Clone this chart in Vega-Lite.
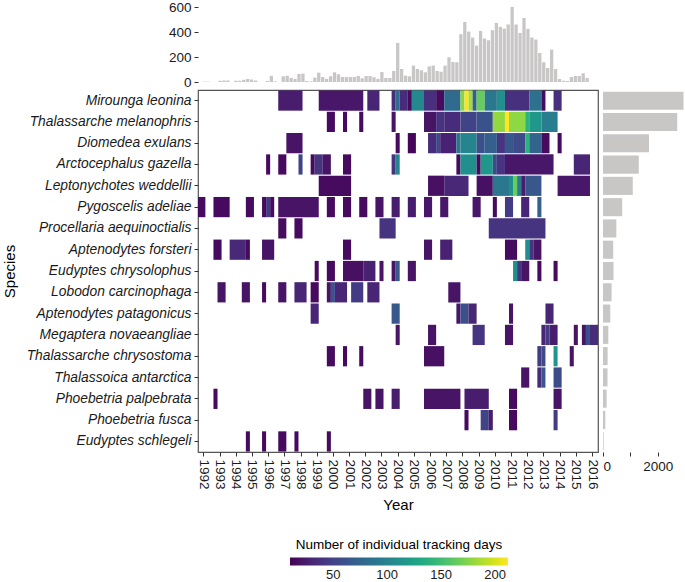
{
"$schema":"https://vega.github.io/schema/vega-lite/v6.json",
"padding":{"left":1,"top":0,"right":0,"bottom":0},
"config":{"font":"Liberation Sans","view":{"stroke":null},
"axis":{"labelFont":"Liberation Sans","labelFontSize":13.5,"labelColor":"#1a1a1a","tickColor":"#333333","tickSize":4,"titleFont":"Liberation Sans","titleFontSize":15,"titleFontWeight":"normal","titleColor":"#000000","grid":false,"domain":false}},
"datasets":{
"quarters":[{"q":1991.75,"d":3},{"q":1992.0,"d":3},{"q":1992.75,"d":10},{"q":1993.0,"d":12},{"q":1993.25,"d":12},{"q":1993.75,"d":10},{"q":1994.0,"d":10},{"q":1994.25,"d":18},{"q":1994.5,"d":24},{"q":1994.75,"d":20},{"q":1995.0,"d":12},{"q":1995.75,"d":8},{"q":1996.0,"d":50},{"q":1996.25,"d":5},{"q":1996.75,"d":46},{"q":1997.0,"d":50},{"q":1997.25,"d":33},{"q":1997.5,"d":25},{"q":1997.75,"d":65},{"q":1998.0,"d":67},{"q":1998.25,"d":8},{"q":1998.5,"d":5},{"q":1998.75,"d":35},{"q":1999.0,"d":75},{"q":1999.25,"d":40},{"q":1999.5,"d":25},{"q":1999.75,"d":46},{"q":2000.0,"d":78},{"q":2000.25,"d":62},{"q":2000.5,"d":40},{"q":2000.75,"d":40},{"q":2001.0,"d":40},{"q":2001.25,"d":40},{"q":2001.5,"d":48},{"q":2001.75,"d":30},{"q":2002.0,"d":48},{"q":2002.25,"d":48},{"q":2002.5,"d":38},{"q":2002.75,"d":25},{"q":2003.0,"d":80},{"q":2003.25,"d":32},{"q":2003.5,"d":32},{"q":2003.75,"d":89},{"q":2004.0,"d":315},{"q":2004.25,"d":105},{"q":2004.5,"d":51},{"q":2004.75,"d":46},{"q":2005.0,"d":132},{"q":2005.25,"d":105},{"q":2005.5,"d":94},{"q":2005.75,"d":78},{"q":2006.0,"d":126},{"q":2006.25,"d":132},{"q":2006.5,"d":89},{"q":2006.75,"d":83},{"q":2007.0,"d":132},{"q":2007.25,"d":199},{"q":2007.5,"d":161},{"q":2007.75,"d":159},{"q":2008.0,"d":385},{"q":2008.25,"d":484},{"q":2008.5,"d":406},{"q":2008.75,"d":358},{"q":2009.0,"d":293},{"q":2009.25,"d":411},{"q":2009.5,"d":350},{"q":2009.75,"d":336},{"q":2010.0,"d":417},{"q":2010.25,"d":476},{"q":2010.5,"d":444},{"q":2010.75,"d":430},{"q":2011.0,"d":463},{"q":2011.25,"d":605},{"q":2011.5,"d":463},{"q":2011.75,"d":395},{"q":2012.0,"d":516},{"q":2012.25,"d":428},{"q":2012.5,"d":358},{"q":2012.75,"d":342},{"q":2013.0,"d":234},{"q":2013.25,"d":159},{"q":2013.5,"d":113},{"q":2013.75,"d":261},{"q":2014.0,"d":105},{"q":2014.25,"d":24},{"q":2014.5,"d":10},{"q":2014.75,"d":8},{"q":2015.0,"d":40},{"q":2015.25,"d":48},{"q":2015.5,"d":48},{"q":2015.75,"d":70},{"q":2016.0,"d":32}],
"totals":[{"species":"Mirounga leonina","total":2945},{"species":"Thalassarche melanophris","total":2715},{"species":"Diomedea exulans","total":1684},{"species":"Arctocephalus gazella","total":1309},{"species":"Leptonychotes weddellii","total":1090},{"species":"Pygoscelis adeliae","total":702},{"species":"Procellaria aequinoctialis","total":487},{"species":"Aptenodytes forsteri","total":374},{"species":"Eudyptes chrysolophus","total":385},{"species":"Lobodon carcinophaga","total":315},{"species":"Aptenodytes patagonicus","total":267},{"species":"Megaptera novaeangliae","total":194},{"species":"Thalassarche chrysostoma","total":170},{"species":"Thalassoica antarctica","total":165},{"species":"Phoebetria palpebrata","total":133},{"species":"Phoebetria fusca","total":85},{"species":"Eudyptes schlegeli","total":25}],
"cells":[
{"species":"Mirounga leonina","start":1996.625,"end":1998.125,"days":25},
{"species":"Mirounga leonina","start":1999.125,"end":2001.875,"days":22},
{"species":"Mirounga leonina","start":2002.125,"end":2002.875,"days":30},
{"species":"Mirounga leonina","start":2003.625,"end":2003.875,"days":35},
{"species":"Mirounga leonina","start":2003.875,"end":2004.125,"days":80},
{"species":"Mirounga leonina","start":2004.125,"end":2004.625,"days":35},
{"species":"Mirounga leonina","start":2004.625,"end":2004.875,"days":15},
{"species":"Mirounga leonina","start":2004.875,"end":2005.625,"days":105},
{"species":"Mirounga leonina","start":2005.625,"end":2006.375,"days":38},
{"species":"Mirounga leonina","start":2006.375,"end":2006.875,"days":15},
{"species":"Mirounga leonina","start":2006.875,"end":2007.875,"days":80},
{"species":"Mirounga leonina","start":2007.875,"end":2008.125,"days":175},
{"species":"Mirounga leonina","start":2008.125,"end":2008.375,"days":210},
{"species":"Mirounga leonina","start":2008.375,"end":2008.625,"days":185},
{"species":"Mirounga leonina","start":2008.625,"end":2008.875,"days":70},
{"species":"Mirounga leonina","start":2008.875,"end":2009.375,"days":165},
{"species":"Mirounga leonina","start":2009.375,"end":2010.125,"days":90},
{"species":"Mirounga leonina","start":2010.125,"end":2010.625,"days":110},
{"species":"Mirounga leonina","start":2010.625,"end":2012.125,"days":38},
{"species":"Mirounga leonina","start":2012.125,"end":2012.875,"days":85},
{"species":"Mirounga leonina","start":2012.875,"end":2013.125,"days":15},
{"species":"Mirounga leonina","start":2013.625,"end":2014.125,"days":38},
{"species":"Thalassarche melanophris","start":1999.625,"end":2000.125,"days":15},
{"species":"Thalassarche melanophris","start":2000.625,"end":2000.875,"days":15},
{"species":"Thalassarche melanophris","start":2001.625,"end":2001.875,"days":15},
{"species":"Thalassarche melanophris","start":2003.625,"end":2003.875,"days":20},
{"species":"Thalassarche melanophris","start":2005.625,"end":2006.375,"days":20},
{"species":"Thalassarche melanophris","start":2006.375,"end":2006.875,"days":40},
{"species":"Thalassarche melanophris","start":2006.875,"end":2007.875,"days":35},
{"species":"Thalassarche melanophris","start":2007.875,"end":2008.875,"days":50},
{"species":"Thalassarche melanophris","start":2008.875,"end":2009.875,"days":60},
{"species":"Thalassarche melanophris","start":2009.875,"end":2010.625,"days":180},
{"species":"Thalassarche melanophris","start":2010.625,"end":2010.875,"days":212},
{"species":"Thalassarche melanophris","start":2010.875,"end":2011.875,"days":178},
{"species":"Thalassarche melanophris","start":2011.875,"end":2012.125,"days":140},
{"species":"Thalassarche melanophris","start":2012.125,"end":2012.875,"days":118},
{"species":"Thalassarche melanophris","start":2012.875,"end":2013.875,"days":95},
{"species":"Diomedea exulans","start":1997.125,"end":1998.125,"days":20},
{"species":"Diomedea exulans","start":2003.875,"end":2004.125,"days":15},
{"species":"Diomedea exulans","start":2004.625,"end":2005.125,"days":12},
{"species":"Diomedea exulans","start":2005.875,"end":2006.375,"days":35},
{"species":"Diomedea exulans","start":2006.375,"end":2006.625,"days":55},
{"species":"Diomedea exulans","start":2006.625,"end":2007.625,"days":28},
{"species":"Diomedea exulans","start":2007.625,"end":2007.875,"days":90},
{"species":"Diomedea exulans","start":2007.875,"end":2008.875,"days":100},
{"species":"Diomedea exulans","start":2008.875,"end":2009.375,"days":60},
{"species":"Diomedea exulans","start":2009.375,"end":2010.125,"days":70},
{"species":"Diomedea exulans","start":2010.125,"end":2010.625,"days":40},
{"species":"Diomedea exulans","start":2010.625,"end":2011.125,"days":65},
{"species":"Diomedea exulans","start":2011.125,"end":2011.875,"days":55},
{"species":"Diomedea exulans","start":2011.875,"end":2012.125,"days":140},
{"species":"Diomedea exulans","start":2012.125,"end":2012.875,"days":75},
{"species":"Diomedea exulans","start":2012.875,"end":2013.375,"days":15},
{"species":"Diomedea exulans","start":2013.875,"end":2014.125,"days":15},
{"species":"Arctocephalus gazella","start":1995.875,"end":1996.125,"days":15},
{"species":"Arctocephalus gazella","start":1996.625,"end":1997.125,"days":15},
{"species":"Arctocephalus gazella","start":1997.875,"end":1998.125,"days":50},
{"species":"Arctocephalus gazella","start":1998.625,"end":1998.875,"days":15},
{"species":"Arctocephalus gazella","start":1998.875,"end":1999.375,"days":40},
{"species":"Arctocephalus gazella","start":1999.375,"end":1999.875,"days":20},
{"species":"Arctocephalus gazella","start":2000.625,"end":2001.125,"days":15},
{"species":"Arctocephalus gazella","start":2003.625,"end":2003.875,"days":40},
{"species":"Arctocephalus gazella","start":2003.875,"end":2004.125,"days":100},
{"species":"Arctocephalus gazella","start":2007.625,"end":2007.875,"days":15},
{"species":"Arctocephalus gazella","start":2007.875,"end":2008.875,"days":110},
{"species":"Arctocephalus gazella","start":2008.875,"end":2009.125,"days":15},
{"species":"Arctocephalus gazella","start":2009.125,"end":2009.875,"days":118},
{"species":"Arctocephalus gazella","start":2009.875,"end":2010.125,"days":55},
{"species":"Arctocephalus gazella","start":2010.125,"end":2010.625,"days":40},
{"species":"Arctocephalus gazella","start":2010.625,"end":2013.625,"days":22},
{"species":"Arctocephalus gazella","start":2014.875,"end":2015.875,"days":30},
{"species":"Leptonychotes weddellii","start":1999.125,"end":2001.125,"days":15},
{"species":"Leptonychotes weddellii","start":2005.875,"end":2006.875,"days":18},
{"species":"Leptonychotes weddellii","start":2006.875,"end":2008.375,"days":32},
{"species":"Leptonychotes weddellii","start":2008.875,"end":2009.875,"days":18},
{"species":"Leptonychotes weddellii","start":2009.875,"end":2010.875,"days":90},
{"species":"Leptonychotes weddellii","start":2010.875,"end":2011.125,"days":110},
{"species":"Leptonychotes weddellii","start":2011.125,"end":2011.375,"days":165},
{"species":"Leptonychotes weddellii","start":2011.375,"end":2011.625,"days":90},
{"species":"Leptonychotes weddellii","start":2011.625,"end":2011.875,"days":25},
{"species":"Leptonychotes weddellii","start":2011.875,"end":2012.875,"days":65},
{"species":"Leptonychotes weddellii","start":2013.875,"end":2015.875,"days":22},
{"species":"Pygoscelis adeliae","start":1991.625,"end":1992.125,"days":15},
{"species":"Pygoscelis adeliae","start":1992.625,"end":1993.625,"days":15},
{"species":"Pygoscelis adeliae","start":1994.625,"end":1995.125,"days":15},
{"species":"Pygoscelis adeliae","start":1995.625,"end":1995.875,"days":15},
{"species":"Pygoscelis adeliae","start":1995.875,"end":1996.125,"days":45},
{"species":"Pygoscelis adeliae","start":1996.125,"end":1996.375,"days":15},
{"species":"Pygoscelis adeliae","start":1996.625,"end":1999.125,"days":20},
{"species":"Pygoscelis adeliae","start":1999.625,"end":2000.125,"days":15},
{"species":"Pygoscelis adeliae","start":2000.625,"end":2001.125,"days":15},
{"species":"Pygoscelis adeliae","start":2001.625,"end":2002.125,"days":15},
{"species":"Pygoscelis adeliae","start":2002.625,"end":2003.125,"days":20},
{"species":"Pygoscelis adeliae","start":2003.625,"end":2004.125,"days":25},
{"species":"Pygoscelis adeliae","start":2004.625,"end":2005.125,"days":25},
{"species":"Pygoscelis adeliae","start":2005.625,"end":2006.125,"days":22},
{"species":"Pygoscelis adeliae","start":2006.625,"end":2007.125,"days":22},
{"species":"Pygoscelis adeliae","start":2008.625,"end":2009.125,"days":22},
{"species":"Pygoscelis adeliae","start":2009.875,"end":2010.125,"days":15},
{"species":"Pygoscelis adeliae","start":2010.625,"end":2011.125,"days":45},
{"species":"Pygoscelis adeliae","start":2011.625,"end":2012.125,"days":30},
{"species":"Pygoscelis adeliae","start":2012.625,"end":2012.875,"days":70},
{"species":"Procellaria aequinoctialis","start":1996.625,"end":1997.125,"days":15},
{"species":"Procellaria aequinoctialis","start":1997.625,"end":1998.125,"days":15},
{"species":"Procellaria aequinoctialis","start":2002.875,"end":2003.875,"days":40},
{"species":"Procellaria aequinoctialis","start":2009.625,"end":2013.125,"days":40},
{"species":"Aptenodytes forsteri","start":1992.625,"end":1993.125,"days":15},
{"species":"Aptenodytes forsteri","start":1993.625,"end":1994.625,"days":32},
{"species":"Aptenodytes forsteri","start":1994.625,"end":1994.875,"days":15},
{"species":"Aptenodytes forsteri","start":1995.625,"end":1996.375,"days":20},
{"species":"Aptenodytes forsteri","start":2000.625,"end":2001.125,"days":15},
{"species":"Aptenodytes forsteri","start":2005.625,"end":2006.125,"days":20},
{"species":"Aptenodytes forsteri","start":2006.625,"end":2007.375,"days":28},
{"species":"Aptenodytes forsteri","start":2010.625,"end":2011.375,"days":15},
{"species":"Aptenodytes forsteri","start":2011.875,"end":2012.125,"days":110},
{"species":"Aptenodytes forsteri","start":2012.125,"end":2012.375,"days":40},
{"species":"Aptenodytes forsteri","start":2012.375,"end":2012.875,"days":20},
{"species":"Eudyptes chrysolophus","start":1998.875,"end":1999.125,"days":15},
{"species":"Eudyptes chrysolophus","start":1999.625,"end":2000.125,"days":15},
{"species":"Eudyptes chrysolophus","start":2000.625,"end":2001.875,"days":18},
{"species":"Eudyptes chrysolophus","start":2001.875,"end":2002.625,"days":28},
{"species":"Eudyptes chrysolophus","start":2002.875,"end":2003.125,"days":20},
{"species":"Eudyptes chrysolophus","start":2003.625,"end":2003.875,"days":20},
{"species":"Eudyptes chrysolophus","start":2003.875,"end":2004.125,"days":65},
{"species":"Eudyptes chrysolophus","start":2004.625,"end":2005.125,"days":20},
{"species":"Eudyptes chrysolophus","start":2011.125,"end":2011.375,"days":110},
{"species":"Eudyptes chrysolophus","start":2011.375,"end":2011.625,"days":40},
{"species":"Eudyptes chrysolophus","start":2011.625,"end":2012.125,"days":20},
{"species":"Eudyptes chrysolophus","start":2012.625,"end":2012.875,"days":15},
{"species":"Eudyptes chrysolophus","start":2013.625,"end":2013.875,"days":15},
{"species":"Lobodon carcinophaga","start":1992.875,"end":1993.375,"days":20},
{"species":"Lobodon carcinophaga","start":1994.375,"end":1994.875,"days":20},
{"species":"Lobodon carcinophaga","start":1995.625,"end":1995.875,"days":15},
{"species":"Lobodon carcinophaga","start":1996.625,"end":1997.125,"days":20},
{"species":"Lobodon carcinophaga","start":1997.625,"end":1998.375,"days":30},
{"species":"Lobodon carcinophaga","start":1998.625,"end":1999.125,"days":15},
{"species":"Lobodon carcinophaga","start":1999.625,"end":1999.875,"days":20},
{"species":"Lobodon carcinophaga","start":1999.875,"end":2000.125,"days":60},
{"species":"Lobodon carcinophaga","start":2000.125,"end":2000.875,"days":30},
{"species":"Lobodon carcinophaga","start":2001.125,"end":2001.875,"days":45},
{"species":"Lobodon carcinophaga","start":2002.125,"end":2002.875,"days":30},
{"species":"Lobodon carcinophaga","start":2007.125,"end":2007.875,"days":20},
{"species":"Aptenodytes patagonicus","start":1998.625,"end":1999.125,"days":30},
{"species":"Aptenodytes patagonicus","start":2003.625,"end":2004.125,"days":65},
{"species":"Aptenodytes patagonicus","start":2007.625,"end":2007.875,"days":20},
{"species":"Aptenodytes patagonicus","start":2007.875,"end":2008.375,"days":58},
{"species":"Aptenodytes patagonicus","start":2008.375,"end":2008.875,"days":30},
{"species":"Aptenodytes patagonicus","start":2010.875,"end":2011.125,"days":20},
{"species":"Aptenodytes patagonicus","start":2013.125,"end":2013.625,"days":30},
{"species":"Megaptera novaeangliae","start":2003.875,"end":2004.125,"days":20},
{"species":"Megaptera novaeangliae","start":2005.875,"end":2006.375,"days":20},
{"species":"Megaptera novaeangliae","start":2008.625,"end":2009.375,"days":40},
{"species":"Megaptera novaeangliae","start":2010.625,"end":2011.125,"days":20},
{"species":"Megaptera novaeangliae","start":2012.875,"end":2013.125,"days":30},
{"species":"Megaptera novaeangliae","start":2013.125,"end":2013.375,"days":45},
{"species":"Megaptera novaeangliae","start":2013.375,"end":2013.875,"days":25},
{"species":"Megaptera novaeangliae","start":2014.875,"end":2015.125,"days":20},
{"species":"Megaptera novaeangliae","start":2015.375,"end":2015.625,"days":20},
{"species":"Megaptera novaeangliae","start":2015.625,"end":2015.875,"days":60},
{"species":"Megaptera novaeangliae","start":2015.875,"end":2016.375,"days":35},
{"species":"Thalassarche chrysostoma","start":1999.625,"end":2000.125,"days":15},
{"species":"Thalassarche chrysostoma","start":2000.625,"end":2000.875,"days":15},
{"species":"Thalassarche chrysostoma","start":2001.625,"end":2001.875,"days":15},
{"species":"Thalassarche chrysostoma","start":2005.625,"end":2006.875,"days":18},
{"species":"Thalassarche chrysostoma","start":2012.625,"end":2012.875,"days":45},
{"species":"Thalassarche chrysostoma","start":2012.875,"end":2013.125,"days":55},
{"species":"Thalassarche chrysostoma","start":2013.625,"end":2013.875,"days":115},
{"species":"Thalassarche chrysostoma","start":2014.625,"end":2014.875,"days":20},
{"species":"Thalassoica antarctica","start":2011.625,"end":2012.125,"days":20},
{"species":"Thalassoica antarctica","start":2012.625,"end":2012.875,"days":35},
{"species":"Thalassoica antarctica","start":2012.875,"end":2013.125,"days":65},
{"species":"Thalassoica antarctica","start":2013.625,"end":2014.125,"days":55},
{"species":"Phoebetria palpebrata","start":1992.625,"end":1992.875,"days":15},
{"species":"Phoebetria palpebrata","start":2001.875,"end":2002.375,"days":20},
{"species":"Phoebetria palpebrata","start":2002.625,"end":2003.125,"days":20},
{"species":"Phoebetria palpebrata","start":2003.625,"end":2004.125,"days":25},
{"species":"Phoebetria palpebrata","start":2005.625,"end":2007.875,"days":20},
{"species":"Phoebetria palpebrata","start":2008.125,"end":2009.625,"days":25},
{"species":"Phoebetria palpebrata","start":2010.875,"end":2011.375,"days":15},
{"species":"Phoebetria palpebrata","start":2013.625,"end":2014.125,"days":20},
{"species":"Phoebetria fusca","start":2008.125,"end":2008.375,"days":15},
{"species":"Phoebetria fusca","start":2009.125,"end":2009.625,"days":50},
{"species":"Phoebetria fusca","start":2009.625,"end":2009.875,"days":25},
{"species":"Phoebetria fusca","start":2010.875,"end":2011.375,"days":15},
{"species":"Phoebetria fusca","start":2013.625,"end":2013.875,"days":45},
{"species":"Eudyptes schlegeli","start":1994.625,"end":1994.875,"days":15},
{"species":"Eudyptes schlegeli","start":1995.625,"end":1995.875,"days":15},
{"species":"Eudyptes schlegeli","start":1996.625,"end":1997.125,"days":15},
{"species":"Eudyptes schlegeli","start":1997.625,"end":1997.875,"days":15},
{"species":"Eudyptes schlegeli","start":1999.625,"end":1999.875,"days":15}
]},
"columns":2,
"align":"each",
"spacing":{"row":0,"column":2},
"resolve":{"scale":{"x":"independent","y":"independent"}},
"concat":[
{"width":400,"height":77,"data":{"name":"quarters"},
 "mark":{"type":"bar","width":3.3,"color":"#c9c6c6"},
 "encoding":{
  "x":{"field":"q","type":"quantitative","scale":{"domain":[1991.67,2016.37],"nice":false,"zero":false},"axis":null},
  "y":{"field":"d","type":"quantitative","scale":{"domain":[0,620],"nice":false},"axis":{"values":[0,200,400,600],"title":null,"labelPadding":3}}}},
{"width":82,"height":77,"data":{"values":[{}]},"mark":{"type":"point","opacity":0},"encoding":{}},
{"width":400,"height":362,"data":{"name":"cells"},
 "view":{"stroke":"#555555","strokeWidth":1.2},
 "mark":{"type":"rect","clip":true},
 "encoding":{
  "x":{"field":"start","type":"quantitative","scale":{"domain":[1991.67,2016.37],"nice":false,"zero":false},
   "axis":{"values":[1992,1993,1994,1995,1996,1997,1998,1999,2000,2001,2002,2003,2004,2005,2006,2007,2008,2009,2010,2011,2012,2013,2014,2015,2016],"format":"d","labelAngle":90,"title":"Year","titlePadding":8,"labelPadding":3}},
  "x2":{"field":"end"},
  "y":{"field":"species","type":"nominal","scale":{"domain":["Mirounga leonina","Thalassarche melanophris","Diomedea exulans","Arctocephalus gazella","Leptonychotes weddellii","Pygoscelis adeliae","Procellaria aequinoctialis","Aptenodytes forsteri","Eudyptes chrysolophus","Lobodon carcinophaga","Aptenodytes patagonicus","Megaptera novaeangliae","Thalassarche chrysostoma","Thalassoica antarctica","Phoebetria palpebrata","Phoebetria fusca","Eudyptes schlegeli"],"paddingInner":0.05,"paddingOuter":0.02},
   "axis":{"title":"Species","labelFontStyle":"italic","labelFontSize":13.8,"titlePadding":9,"labelPadding":3}},
  "color":{"field":"days","type":"quantitative","scale":{"scheme":"viridis","domain":[10,212],"clamp":true},
   "legend":{"title":"Number of individual tracking days","orient":"none","legendX":92,"legendY":533,"direction":"horizontal","gradientLength":218,"gradientThickness":8,"values":[50,100,150,200],"titleLimit":400,"titleFontSize":13.5,"titleFontWeight":"normal","titleColor":"#000000","titleFont":"Liberation Sans","labelFont":"Liberation Sans","labelFontSize":13,"labelColor":"#1a1a1a","titleAnchor":"middle","titlePadding":6,"labelOffset":3}}}},
{"width":82,"height":362,"data":{"name":"totals"},
 "mark":{"type":"bar","color":"#c9c6c6"},
 "encoding":{
  "y":{"field":"species","type":"nominal","scale":{"domain":["Mirounga leonina","Thalassarche melanophris","Diomedea exulans","Arctocephalus gazella","Leptonychotes weddellii","Pygoscelis adeliae","Procellaria aequinoctialis","Aptenodytes forsteri","Eudyptes chrysolophus","Lobodon carcinophaga","Aptenodytes patagonicus","Megaptera novaeangliae","Thalassarche chrysostoma","Thalassoica antarctica","Phoebetria palpebrata","Phoebetria fusca","Eudyptes schlegeli"],"paddingInner":0.15,"paddingOuter":0.08},"axis":null},
  "x":{"field":"total","type":"quantitative","scale":{"domain":[0,3000],"nice":false},"axis":{"values":[0,1000,2000],"format":"d","labelExpr":"datum.value == 1000 ? '' : datum.label","title":null,"labelPadding":3}}}}
]
}
